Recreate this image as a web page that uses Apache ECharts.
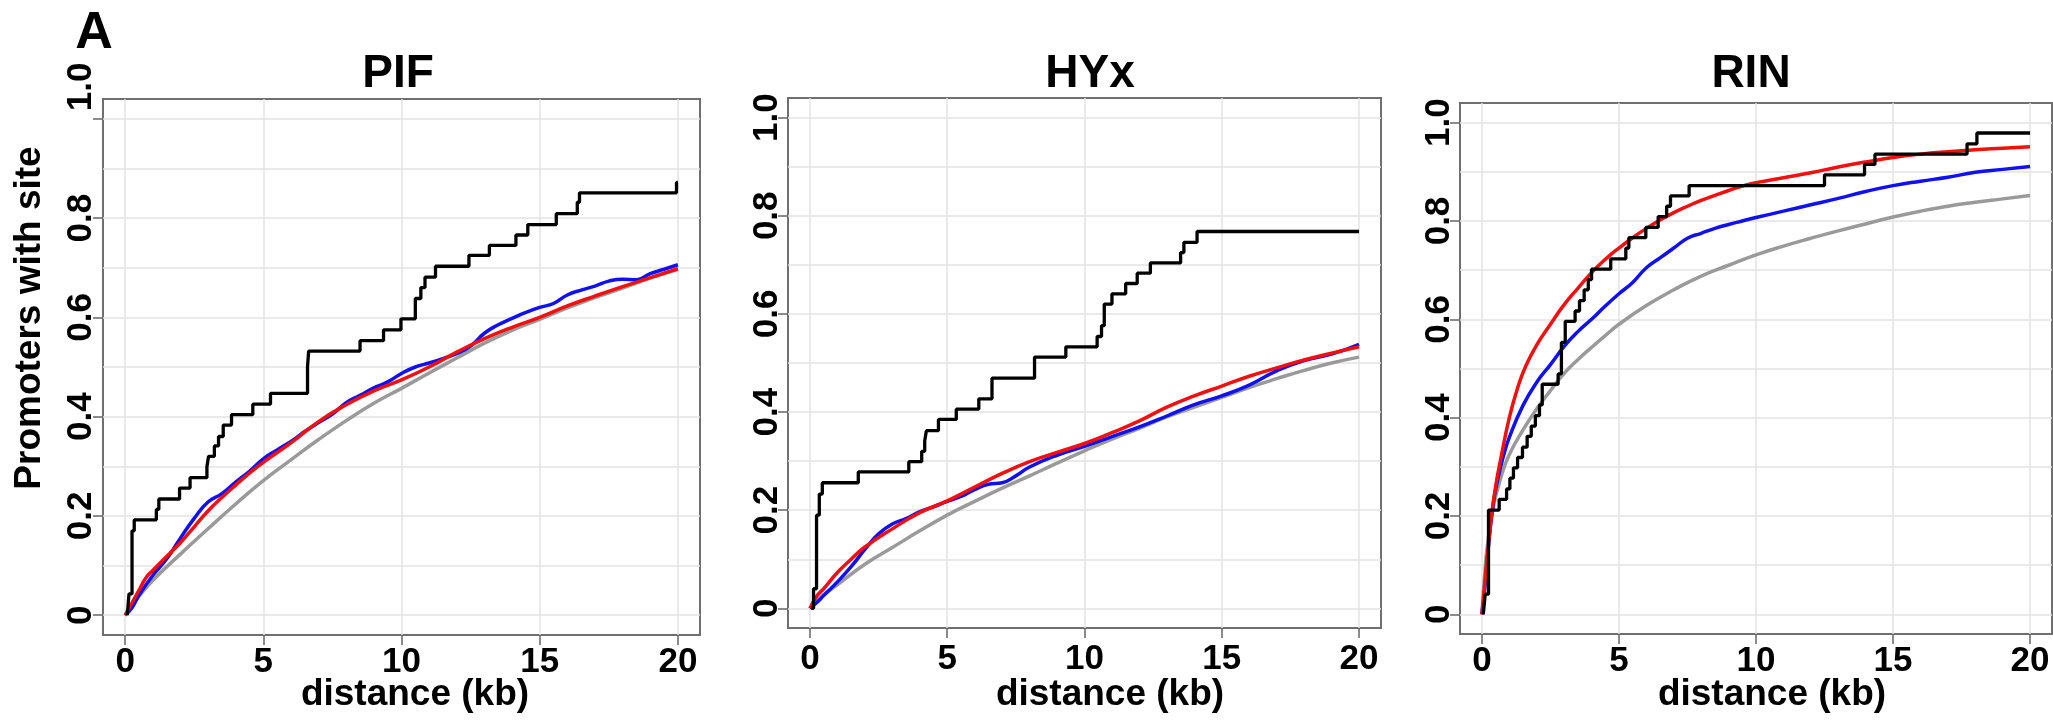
<!DOCTYPE html>
<html>
<head>
<meta charset="utf-8">
<script src="https://cdn.jsdelivr.net/npm/echarts@6/dist/echarts.min.js"></script>
<style>
  html, body { margin: 0; padding: 0; background: #fff; }
  #chart { width: 2053px; height: 721px; }
</style>
</head>
<body>
<div id="chart"></div>
<script>
// ---------------- DATA ----------------
const PANEL_TITLES = ['PIF', 'HYx', 'RIN'];
const X_TICKS = [0, 5, 10, 15, 20];
const Y_TICKS = [0, 0.2, 0.4, 0.6, 0.8, 1.0];
const X_GRID = [0, 5, 10, 15, 20];
const Y_GRID = [0, 0.1, 0.2, 0.3, 0.4, 0.5, 0.6, 0.7, 0.8, 0.9, 1.0];
const X_NAME = 'distance (kb)';
const Y_NAME = 'Promoters with site';
const PANEL_LETTER = 'A';

// PIF
const PIF_BLACK = [[0.08,0],[0.14,0.043],[0.25,0.17],[0.33,0.192],[1.13,0.213],[1.22,0.234],[1.97,0.256],[2.35,0.277],[2.96,0.299],[3.02,0.32],[3.23,0.341],[3.38,0.36],[3.55,0.383],[3.85,0.404],[4.62,0.425],[5.26,0.447],[6.6,0.5],[6.64,0.532],[8.5,0.553],[9.35,0.575],[9.98,0.597],[10.5,0.638],[10.7,0.66],[10.85,0.681],[11.23,0.703],[12.44,0.725],[13.18,0.745],[14.14,0.766],[14.57,0.787],[15.6,0.809],[16.36,0.832],[16.44,0.851],[19.95,0.872],[20,0.872]];
const PIF_RED = [[0,0],[0.25,0.025],[0.5,0.05],[0.75,0.075],[1,0.09],[1.5,0.118],[2,0.146],[2.5,0.178],[3,0.21],[3.5,0.237],[4,0.262],[4.5,0.286],[5,0.308],[6,0.347],[7,0.39],[8,0.424],[9,0.452],[10,0.474],[11,0.5],[12,0.53],[13,0.557],[14,0.58],[15,0.6],[16,0.623],[17,0.643],[18,0.662],[19,0.68],[20,0.698]];
const PIF_BLUE = [[0,0],[0.25,0.015],[0.5,0.04],[1,0.08],[1.5,0.113],[2,0.155],[2.5,0.195],[3,0.228],[3.5,0.245],[4,0.268],[4.5,0.29],[5,0.315],[5.5,0.333],[6,0.35],[6.5,0.37],[7,0.388],[7.5,0.405],[8,0.428],[8.5,0.443],[9,0.458],[9.5,0.47],[10,0.487],[10.5,0.5],[11,0.508],[11.5,0.517],[12,0.527],[12.5,0.542],[13,0.568],[13.5,0.585],[14,0.598],[14.5,0.61],[15,0.62],[15.5,0.628],[16,0.645],[16.5,0.655],[17,0.663],[17.5,0.673],[18,0.677],[18.5,0.676],[19,0.688],[19.5,0.697],[20,0.706]];
const PIF_GRAY = [[0,0],[0.25,0.02],[0.5,0.038],[1,0.07],[2,0.123],[3,0.174],[4,0.224],[5,0.271],[6,0.313],[7,0.354],[8,0.392],[9,0.427],[10,0.457],[11,0.488],[12,0.518],[13,0.548],[14,0.574],[15,0.596],[16,0.619],[17,0.64],[18,0.659],[19,0.679],[20,0.697]];

// HYx
const HYX_BLACK = [[0.05,0],[0.13,0.04],[0.24,0.19],[0.34,0.233],[0.45,0.256],[1.76,0.278],[3.6,0.299],[4.07,0.32],[4.18,0.341],[4.24,0.362],[4.68,0.385],[5.33,0.406],[6.15,0.427],[6.63,0.469],[8.18,0.512],[9.32,0.533],[10.46,0.554],[10.62,0.576],[10.72,0.62],[11.0,0.641],[11.5,0.662],[11.92,0.683],[12.4,0.704],[13.5,0.725],[13.62,0.746],[14.1,0.768],[20,0.768]];
const HYX_RED = [[0,0],[0.25,0.025],[0.5,0.04],[1,0.073],[1.5,0.1],[2,0.125],[3,0.162],[4,0.195],[5,0.219],[6,0.247],[7,0.275],[8,0.299],[9,0.318],[10,0.336],[11,0.358],[12,0.382],[13,0.41],[14,0.433],[15,0.453],[16,0.473],[17,0.49],[18,0.506],[19,0.52],[20,0.533]];
const HYX_BLUE = [[0,0],[0.25,0.012],[0.5,0.026],[1,0.054],[1.5,0.085],[2,0.12],[2.5,0.152],[3,0.172],[3.5,0.183],[4,0.197],[4.5,0.207],[5,0.218],[5.5,0.228],[6,0.242],[6.5,0.253],[7,0.256],[7.5,0.27],[8,0.288],[9,0.312],[10,0.33],[11,0.35],[12,0.37],[13,0.392],[14,0.415],[15,0.433],[16,0.455],[17,0.484],[18,0.505],[19,0.518],[20,0.538]];
const HYX_GRAY = [[0,0],[0.25,0.015],[0.5,0.028],[1,0.048],[2,0.09],[3,0.124],[4,0.158],[5,0.19],[6,0.218],[7,0.245],[8,0.27],[9,0.296],[10,0.321],[11,0.345],[12,0.367],[13,0.39],[14,0.41],[15,0.43],[16,0.45],[17,0.468],[18,0.485],[19,0.5],[20,0.512]];

// RIN
const RIN_BLACK = [[0.05,0],[0.12,0.041],[0.24,0.212],[0.63,0.234],[0.9,0.255],[1.02,0.277],[1.15,0.298],[1.3,0.319],[1.48,0.34],[1.65,0.362],[1.8,0.383],[1.95,0.404],[2.1,0.426],[2.2,0.468],[2.78,0.489],[2.9,0.553],[3.04,0.596],[3.4,0.617],[3.56,0.638],[3.73,0.66],[3.88,0.681],[4.0,0.702],[4.7,0.723],[5.25,0.745],[5.36,0.766],[5.98,0.787],[6.43,0.809],[6.74,0.83],[6.88,0.851],[7.56,0.872],[12.5,0.894],[13.96,0.915],[14.34,0.936],[17.7,0.957],[18.06,0.979],[20,0.979]];
const RIN_RED = [[0,0],[0.1,0.06],[0.2,0.12],[0.35,0.2],[0.5,0.26],[0.7,0.32],[1,0.4],[1.3,0.46],[1.6,0.505],[2,0.548],[2.5,0.59],[3,0.63],[3.5,0.663],[4,0.695],[4.5,0.722],[5,0.745],[5.5,0.766],[6,0.785],[6.5,0.802],[7,0.817],[7.5,0.83],[8,0.842],[8.5,0.852],[9,0.862],[9.5,0.871],[10,0.878],[11,0.888],[12,0.898],[13,0.91],[14,0.92],[15,0.929],[16,0.936],[17,0.941],[18,0.945],[19,0.948],[20,0.951]];
const RIN_BLUE = [[0,0],[0.1,0.05],[0.2,0.115],[0.4,0.22],[0.6,0.28],[0.8,0.325],[1,0.36],[1.5,0.425],[2,0.472],[2.5,0.508],[3,0.545],[3.5,0.575],[4,0.6],[4.5,0.627],[5,0.652],[5.5,0.675],[6,0.705],[6.5,0.725],[7,0.745],[7.5,0.765],[8,0.775],[8.5,0.785],[9,0.793],[9.5,0.8],[10,0.807],[11,0.82],[12,0.833],[13,0.846],[14,0.86],[15,0.872],[16,0.881],[17,0.889],[18,0.899],[19,0.905],[20,0.911]];
const RIN_GRAY = [[0,0],[0.1,0.08],[0.2,0.14],[0.4,0.215],[0.7,0.28],[1,0.325],[1.5,0.375],[2,0.418],[2.5,0.455],[3,0.49],[3.5,0.518],[4,0.543],[4.5,0.567],[5,0.59],[6,0.628],[7,0.66],[8,0.688],[9,0.71],[10,0.731],[11,0.749],[12,0.765],[13,0.78],[14,0.794],[15,0.808],[16,0.82],[17,0.83],[18,0.838],[19,0.845],[20,0.852]];

// ---------------- LAYOUT / STYLE ----------------
const FONT = '"Liberation Sans", Arial, Helvetica, sans-serif';
const PANELS = [
  { title: PANEL_TITLES[0], series: [PIF_GRAY, PIF_BLUE, PIF_RED, PIF_BLACK],
    grid: { left: 103, top: 99, width: 597, height: 536 }, xMargin: 10, yMargin: 4, titleX: 398, xNameX: 415, liftTop: true },
  { title: PANEL_TITLES[1], series: [HYX_GRAY, HYX_BLUE, HYX_RED, HYX_BLACK],
    grid: { left: 788, top: 98, width: 593, height: 530 }, xMargin: 14, yMargin: 3, titleX: 1090, xNameX: 1110, liftTop: false },
  { title: PANEL_TITLES[2], series: [RIN_GRAY, RIN_BLUE, RIN_RED, RIN_BLACK],
    grid: { left: 1460, top: 103, width: 592, height: 531 }, xMargin: 10, yMargin: 3, titleX: 1751, xNameX: 1772, liftTop: false }
];
const COLORS = ['#9a9a9a', '#1010f0', '#f01010', '#000000'];
const WIDTHS = [3.5, 3.5, 3.5, 3.3];

const grids = [], xAxes = [], yAxes = [], series = [], graphics = [];

PANELS.forEach((p, i) => {
  grids.push(Object.assign({ show: true, borderColor: '#6f6f6f', borderWidth: 2, backgroundColor: 'transparent' }, p.grid));
  xAxes.push({
    type: 'value', gridIndex: i, min: -0.8, max: 20.8,
    axisLine: { show: false, onZero: false },
    axisTick: { show: true, inside: false, length: 10, customValues: X_TICKS, lineStyle: { color: '#666', width: 1.5 } },
    axisLabel: { show: true, customValues: X_TICKS, margin: p.xMargin, fontSize: 35, fontWeight: 'bold', fontFamily: FONT, color: '#000' },
    splitLine: { show: false }
  });
  yAxes.push({
    type: 'value', gridIndex: i, min: -0.04, max: 1.04,
    axisLine: { show: false, onZero: false },
    axisTick: { show: true, inside: false, length: 10, customValues: Y_TICKS, lineStyle: { color: '#666', width: 1.5 } },
    axisLabel: {
      show: true, customValues: Y_TICKS, rotate: 90, margin: p.yMargin,
      fontSize: 35, fontWeight: 'bold', fontFamily: FONT, color: '#000',
      formatter: (v) => {
        const s = v === 0 ? '0' : Number(v).toFixed(1);
        return (p.liftTop && Math.abs(v - 1) < 1e-9) ? '{up|' + s + '}' : s;
      },
      rich: { up: { padding: [0, 0, 0, 64], fontSize: 35, fontWeight: 'bold', fontFamily: FONT, color: '#000' } }
    },
    splitLine: { show: false }
  });
  p.series.forEach((data, k) => {
    const s = {
      type: 'line', xAxisIndex: i, yAxisIndex: i, data: data,
      showSymbol: false, symbol: 'none', silent: true, animation: false,
      z: 3 + k,
      lineStyle: { color: COLORS[k], width: WIDTHS[k] }
    };
    if (k === 3) { s.step = 'end'; }
    else { s.smooth = 0.5; }
    if (k === 0) {
      s.markLine = {
        silent: true, symbol: ['none', 'none'], animation: false, z: 1,
        label: { show: false },
        lineStyle: { color: '#e3e3e3', width: 1.5, type: 'solid' },
        data: X_GRID.map(v => ({ xAxis: v })).concat(Y_GRID.map(v => ({ yAxis: v })))
      };
    }
    series.push(s);
  });
  graphics.push({ type: 'text', x: p.titleX, y: 51, silent: true,
    style: { text: p.title, font: 'bold 46px ' + FONT, fill: '#000', align: 'center', verticalAlign: 'top' } });
  graphics.push({ type: 'text', x: p.xNameX, y: 676, silent: true,
    style: { text: X_NAME, font: 'bold 37px ' + FONT, fill: '#000', align: 'center', verticalAlign: 'top' } });
});

graphics.push({ type: 'text', x: 30, y: 318, rotation: Math.PI / 2, silent: true,
  style: { text: Y_NAME, font: 'bold 37px ' + FONT, fill: '#000', align: 'center', verticalAlign: 'middle' } });
graphics.push({ type: 'text', x: 94, y: 8, silent: true,
  style: { text: PANEL_LETTER, font: 'bold 52px ' + FONT, fill: '#000', align: 'center', verticalAlign: 'top' } });

const chart = echarts.init(document.getElementById('chart'), null, { renderer: 'canvas' });
chart.setOption({
  animation: false,
  backgroundColor: '#ffffff',
  grid: grids,
  xAxis: xAxes,
  yAxis: yAxes,
  series: series,
  graphic: graphics
});
</script>
</body>
</html>
